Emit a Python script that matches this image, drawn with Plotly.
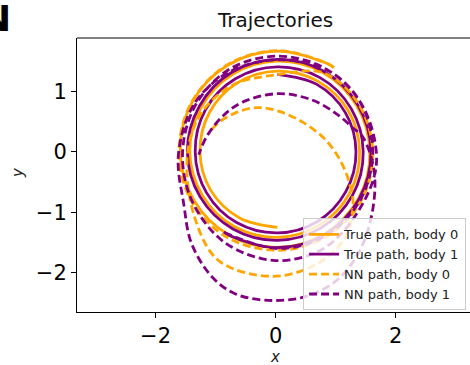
import plotly.graph_objects as go

# --- trajectory samples (x, y) ---
true0_x = [0.97, 0.87, 0.03, -0.80, -1.39, -1.59, -1.36, -0.77, 0.03, 0.81, 1.38, 1.57,
           1.35, 0.79, 0.03, -0.71, -1.24, -1.43, -1.22, -0.69, 0.03, 0.73, 1.23, 1.40,
           1.21, 0.70, 0.03, -0.63, -1.10, -1.26, -1.08, -0.60, 0.03]
true0_y = [1.39, 1.453, 1.664, 1.430, 0.819, 0.0, -0.805, -1.381, -1.581, -1.358, -0.777, 0.0,
           0.763, 1.309, 1.499, 1.286, 0.736, 0.0, -0.722, -1.238, -1.416, -1.214, -0.694, 0.0,
           0.681, 1.167, 1.333, 1.142, 0.653, 0.0, -0.639, -1.095, -1.250]

true1_x = [-0.86, -0.77, 0.03, 0.82, 1.39, 1.59, 1.37, 0.80, 0.03, -0.73, -1.27, -1.47,
           -1.26, -0.71, 0.03, 0.76, 1.28, 1.46, 1.26, 0.74, 0.03, -0.67, -1.17, -1.34,
           -1.15, -0.65, 0.03, 0.70, 1.17, 1.34, 1.16, 0.68, 0.03]
true1_y = [-1.326, -1.385, -1.588, -1.367, -0.784, 0.0, 0.774, 1.331, 1.527, 1.313, 0.753, 0.0,
           -0.743, -1.277, -1.465, -1.260, -0.722, 0.0, 0.712, 1.225, 1.403, 1.206, 0.692, 0.0,
           -0.681, -1.171, -1.342, -1.153, -0.661, 0.0, 0.651, 1.117, 1.280]

nn0_x = [0.97, 0.87, 0.03, -0.80, -1.40, -1.61, -1.40, -0.80, 0.03, 0.84, 1.42, 1.62,
         1.40, 0.81, 0.00, -0.72, -1.25, -1.47, -1.36, -0.95, -0.05, 0.70, 1.17, 1.29,
         1.24, 1.08, 0.82, 0.45, 0.05, -0.30, -0.65, -0.95, -1.12]
nn0_y = [1.39, 1.455, 1.67, 1.44, 0.82, 0.0, -0.82, -1.42, -1.63, -1.41, -0.82, -0.03,
         0.76, 1.30, 1.27, 1.10, 0.62, -0.05, -1.05, -1.80, -2.06, -1.85, -1.40, -0.88,
         -0.55, -0.15, 0.21, 0.49, 0.67, 0.73, 0.65, 0.48, 0.30]

nn1_x = [-0.86, 0.03, 0.83, 1.41, 1.62, 1.42, 0.82, 0.03, -0.76, -1.33, -1.55, -1.40,
         -0.85, 0.00, 0.80, 1.38, 1.68, 1.48, 0.95, 0.10, -0.75, -1.35, -1.62, -1.53,
         -1.40, -1.05, -0.65, -0.05, 0.55, 1.05, 1.42, 1.62, 1.64, 1.45, 1.28, 1.05,
         0.62, 0.05, -0.55, -0.90, -1.16, -1.28]
nn1_y = [-1.33, -1.60, -1.39, -0.80, 0.0, 0.80, 1.38, 1.58, 1.37, 0.78, 0.0, -0.80,
         -1.50, -1.80, -1.60, -0.98, -0.20, 0.70, 1.30, 1.52, 1.33, 0.80, -0.05, -0.87,
         -1.52, -2.08, -2.36, -2.46, -2.38, -2.10, -1.60, -0.95, -0.30, 0.25, 0.40, 0.60,
         0.85, 0.96, 0.82, 0.57, 0.23, -0.05]

ORANGE = "#FFA500"
PURPLE = "#800080"
FONT = "DejaVu Sans"

series = [
    ("True path, body 0", true0_x, true0_y, ORANGE, "solid"),
    ("True path, body 1", true1_x, true1_y, PURPLE, "solid"),
    ("NN path, body 0", nn0_x, nn0_y, ORANGE, "8px,4px"),
    ("NN path, body 1", nn1_x, nn1_y, PURPLE, "8px,4px"),
]

fig = go.Figure()
for name, xs, ys, color, dash in series:
    fig.add_trace(go.Scatter(
        x=xs, y=ys, mode="lines", name=name,
        line=dict(color=color, width=2.8, dash=dash, shape="spline", smoothing=1.0),
    ))

axis_common = dict(
    showgrid=False, zeroline=False, showline=True, linecolor="black", linewidth=1,
    ticks="outside", ticklen=5, tickwidth=1, tickcolor="black",
    tickfont=dict(family=FONT, size=21, color="black"),
)

fig.update_layout(
    width=470, height=365,
    margin=dict(l=77, r=0, t=38, b=53),
    paper_bgcolor="white", plot_bgcolor="white",
    font=dict(family=FONT, color="black"),
    showlegend=True,
    legend=dict(
        x=0.99, y=0.006, xanchor="right", yanchor="bottom",
        bgcolor="rgba(255,255,255,0.8)", bordercolor="#cccccc", borderwidth=1,
        font=dict(family=FONT, size=13, color="#222222"),
        tracegroupgap=0, itemwidth=30,
    ),
    xaxis=dict(range=[-3.31, 3.24], tickvals=[-2, 0, 2], **axis_common),
    yaxis=dict(range=[-2.65, 1.88], tickvals=[-2, -1, 0, 1], **axis_common),
    shapes=[dict(type="line", xref="paper", yref="paper", x0=0, x1=1.01, y0=1, y1=1,
                 line=dict(color="black", width=1))],
    annotations=[
        dict(text="Trajectories", xref="paper", yref="paper", x=(275 - 77) / 393, y=1,
             yshift=18, showarrow=False, xanchor="center", yanchor="middle",
             font=dict(family=FONT, size=20, color="#111111")),
        dict(text="<i>x</i>", xref="paper", yref="paper", x=(275 - 77) / 393, y=0,
             yshift=-45, showarrow=False, xanchor="center", yanchor="middle",
             font=dict(family=FONT, size=15, color="#222222")),
        dict(text="<i>y</i>", xref="paper", yref="paper", x=0, y=(312 - 173) / 274,
             xshift=-59, showarrow=False, xanchor="center", yanchor="middle",
             textangle=-90, font=dict(family=FONT, size=15, color="#222222")),
        dict(text="<b>N</b>", xref="paper", yref="paper", x=0, y=1,
             xshift=-64, yshift=20, showarrow=False, xanchor="right", yanchor="middle",
             font=dict(family=FONT, size=36, color="black")),
    ],
)

fig.write_html("out.html")
